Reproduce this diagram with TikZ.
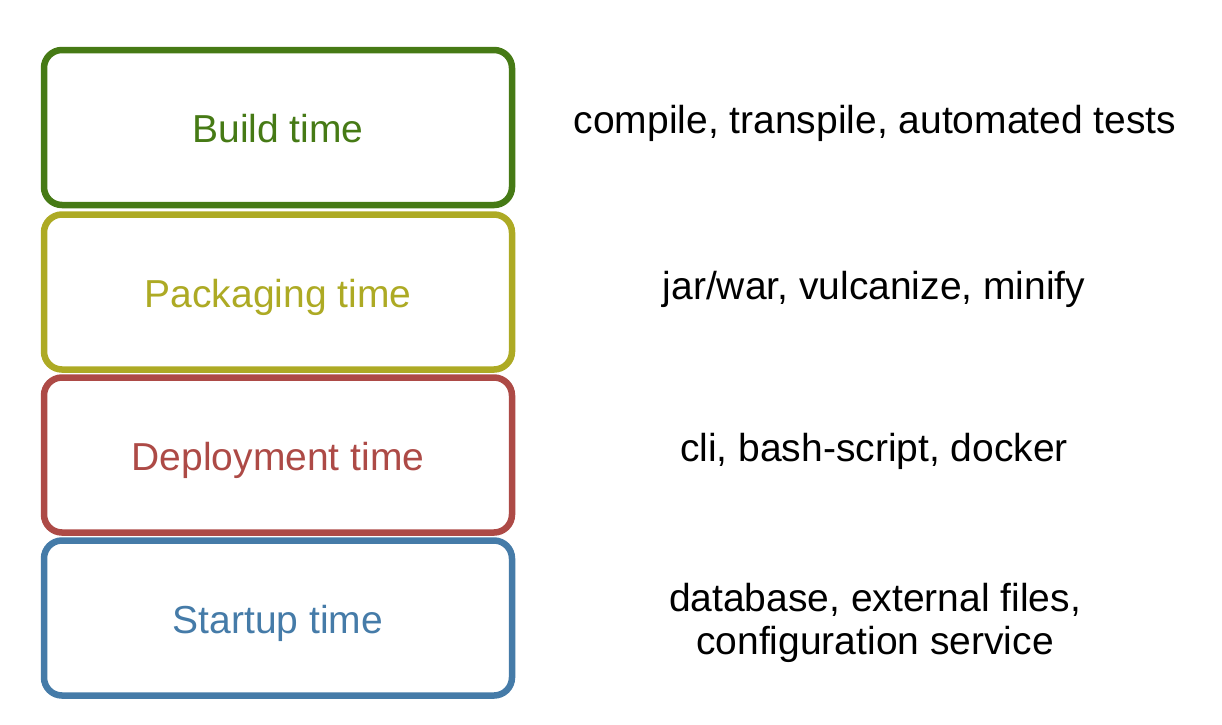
\documentclass[tikz,border=0pt]{standalone}
\usepackage{fontspec}
\setmainfont{Liberation Sans}
\definecolor{cgreen}{HTML}{467A15}
\definecolor{colive}{HTML}{ADAA24}
\definecolor{cred}{HTML}{AD4A46}
\definecolor{cblue}{HTML}{457BA8}
\begin{document}
\begin{tikzpicture}[x=1pt,y=-1pt,
  stage/.style={draw=#1, text=#1, line width=6.5pt, rounded corners=18pt,
    minimum width=468pt, minimum height=155pt, inner sep=0pt,
    text height=30pt, text depth=0pt,
    font=\fontsize{39}{44}\selectfont},
  desc/.style={font=\fontsize{39}{44}\selectfont, align=center, text=black}]
\useasboundingbox (0,0) rectangle (1222,724);
\node[stage=cgreen] (build) at (278,127.5) {Build time};
\node[stage=colive] (pack) at (278,292) {Packaging time};
\node[stage=cred] (deploy) at (278,455) {Deployment time};
\node[stage=cblue] (start) at (278,618) {Startup time};
\node[desc] (d1) at (875,123) {compile, transpile, automated tests};
\node[desc] (d2) at (874,289) {jar/war, vulcanize, minify};
\node[desc] (d3) at (874,451) {cli, bash-script, docker};
\node[desc, text depth=0pt] (d4) at (875,619) {database, external files,\\[-1pt]configuration service};
\end{tikzpicture}
\end{document}
